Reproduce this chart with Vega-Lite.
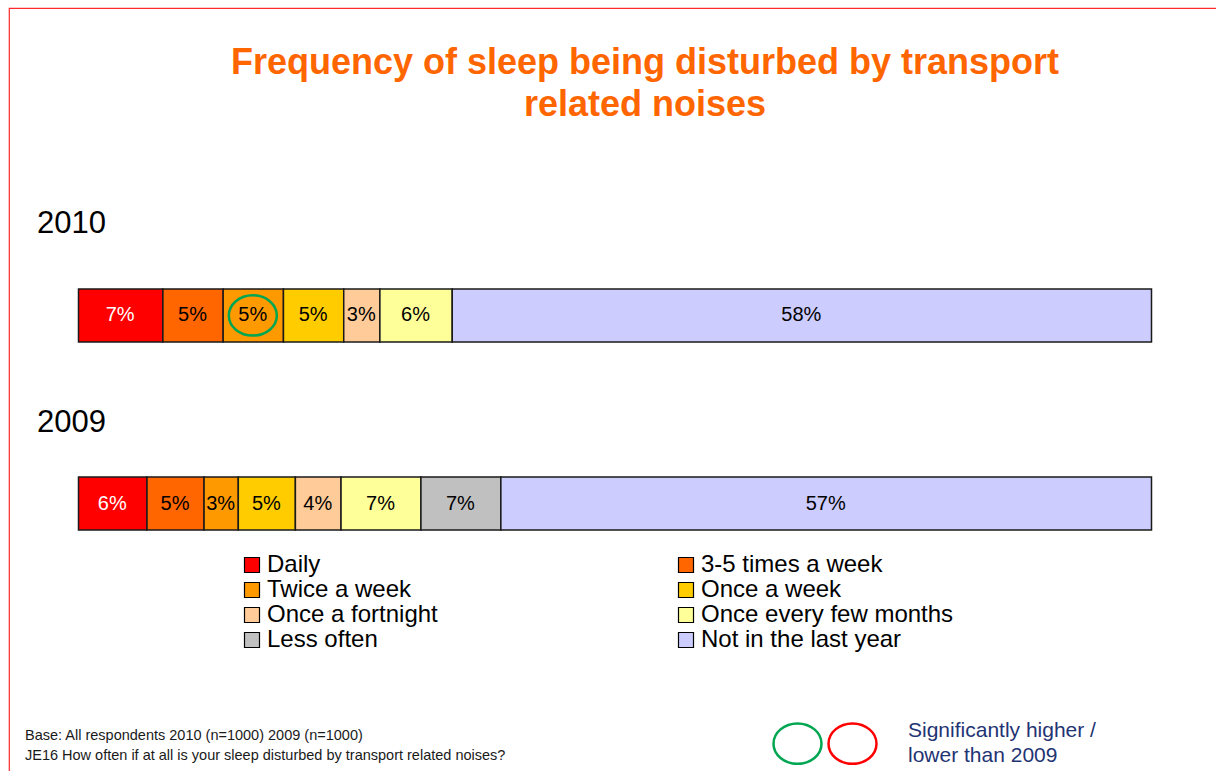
{
  "$schema": "https://vega.github.io/schema/vega-lite/v6.json",
  "width": 1216,
  "height": 800,
  "autosize": {"type": "none"},
  "padding": {"left": 9, "top": 8, "right": 0, "bottom": 0},
  "background": "white",
  "title": {
    "text": ["Frequency of sleep being disturbed by transport", "related noises"],
    "orient": "top",
    "anchor": "middle",
    "frame": "group",
    "offset": -144,
    "baseline": "alphabetic",
    "dx": 28,
    "fontSize": 36,
    "font": "Liberation Sans",
    "fontWeight": "bold",
    "color": "#ff6600",
    "lineHeight": 42
  },
  "config": {
    "view": {"stroke": "#ff2b2b", "strokeWidth": 1.2},
    "font": "Liberation Sans"
  },
  "layer": [
    {
      "data": {
        "values": [
          {"year": "2010", "category": "Daily", "k": 1, "pct": 0.07, "sig": "none"},
          {"year": "2010", "category": "3-5 times a week", "k": 2, "pct": 0.05, "sig": "none"},
          {"year": "2010", "category": "Twice a week", "k": 3, "pct": 0.05, "sig": "higher"},
          {"year": "2010", "category": "Once a week", "k": 4, "pct": 0.05, "sig": "none"},
          {"year": "2010", "category": "Once a fortnight", "k": 5, "pct": 0.03, "sig": "none"},
          {"year": "2010", "category": "Once every few months", "k": 6, "pct": 0.06, "sig": "none"},
          {"year": "2010", "category": "Not in the last year", "k": 8, "pct": 0.58, "sig": "none"},
          {"year": "2009", "category": "Daily", "k": 1, "pct": 0.06, "sig": "none"},
          {"year": "2009", "category": "3-5 times a week", "k": 2, "pct": 0.05, "sig": "none"},
          {"year": "2009", "category": "Twice a week", "k": 3, "pct": 0.03, "sig": "none"},
          {"year": "2009", "category": "Once a week", "k": 4, "pct": 0.05, "sig": "none"},
          {"year": "2009", "category": "Once a fortnight", "k": 5, "pct": 0.04, "sig": "none"},
          {"year": "2009", "category": "Once every few months", "k": 6, "pct": 0.07, "sig": "none"},
          {"year": "2009", "category": "Less often", "k": 7, "pct": 0.07, "sig": "none"},
          {"year": "2009", "category": "Not in the last year", "k": 8, "pct": 0.57, "sig": "none"}
        ]
      },
      "transform": [
        {"stack": "pct", "groupby": ["year"], "sort": [{"field": "k", "order": "ascending"}], "as": ["x0", "x1"], "offset": "normalize"}
      ],
      "layer": [
        {
          "mark": {"type": "bar", "stroke": "#1a1a1a", "strokeWidth": 1.5, "binSpacing": 0},
          "encoding": {
            "x": {"field": "x0", "type": "quantitative", "bin": "binned", "scale": {"domain": [0, 1], "range": [69, 1142], "nice": false, "zero": false}, "axis": null},
            "x2": {"field": "x1"},
            "y": {"field": "year", "type": "nominal", "sort": null, "scale": {"type": "band", "domain": ["2010", "2009"], "range": [281, 522], "paddingInner": 0.7188, "paddingOuter": 0}, "axis": null},
            "fill": {
              "field": "category",
              "type": "nominal",
              "scale": {
                "domain": ["Daily", "Twice a week", "Once a fortnight", "Less often", "3-5 times a week", "Once a week", "Once every few months", "Not in the last year"],
                "range": ["#ff0000", "#ff9900", "#ffcc99", "#c0c0c0", "#ff6600", "#ffcc00", "#ffff99", "#ccccff"]
              },
              "legend": {
                "orient": "none",
                "legendX": 231,
                "legendY": 545,
                "columns": 2,
                "columnPadding": 236,
                "rowPadding": 1,
                "symbolType": "square",
                "symbolSize": 225,
                "symbolStrokeColor": "#000000",
                "symbolStrokeWidth": 1.2,
                "labelFontSize": 24,
                "labelFont": "Liberation Sans",
                "labelColor": "#000000",
                "labelOffset": 3,
                "labelLimit": 0,
                "title": null
              }
            }
          }
        },
        {
          "mark": {"type": "text", "fontSize": 20, "font": "Liberation Sans", "align": "center", "baseline": "middle"},
          "encoding": {
            "x": {"field": "pct", "type": "quantitative", "stack": "normalize", "bandPosition": 0.5},
            "y": {"field": "year", "type": "nominal", "sort": null, "scale": {"type": "band", "domain": ["2010", "2009"], "range": [281, 522], "paddingInner": 0.7188, "paddingOuter": 0}, "axis": null},
            "detail": {"field": "category"},
            "order": {"field": "k", "type": "quantitative", "sort": "ascending"},
            "text": {"field": "pct", "type": "quantitative", "format": ".0%"},
            "color": {"condition": {"test": "datum.category === 'Daily'", "value": "#ffffff"}, "value": "#000000"}
          }
        },
        {
          "transform": [{"filter": "datum.sig === 'higher'"}],
          "mark": {"type": "point", "shape": "M -1 0 A 1 0.84 0 1 1 1 0 A 1 0.84 0 1 1 -1 0 Z", "size": 2304, "strokeWidth": 2.5, "filled": false, "opacity": 1, "dx": -3},
          "encoding": {
            "x": {"field": "x0", "type": "quantitative", "bin": "binned", "bandPosition": 0.5},
            "x2": {"field": "x1"},
            "y": {"field": "year", "type": "nominal", "sort": null, "scale": {"type": "band", "domain": ["2010", "2009"], "range": [281, 522], "paddingInner": 0.7188, "paddingOuter": 0}, "axis": null},
            "stroke": {
              "field": "sig",
              "type": "nominal",
              "scale": {"domain": ["higher", "lower"], "range": ["#00a651", "#ff0000"]},
              "legend": {
                "orient": "none",
                "legendX": 763,
                "legendY": 710,
                "direction": "horizontal",
                "symbolType": "M -1 0 A 1 0.84 0 1 1 1 0 A 1 0.84 0 1 1 -1 0 Z",
                "symbolSize": 2304,
                "symbolStrokeWidth": 2.5,
                "symbolFillColor": "transparent",
                "labelExpr": "''",
                "labelOffset": 0,
                "columnPadding": -5,
                "title": ["Significantly higher /", "lower than 2009"],
                "titleOrient": "right",
                "titlePadding": 26,
                "titleLimit": 0,
                "titleFontSize": 21,
                "titleFontWeight": "normal",
                "titleColor": "#1f3473",
                "titleFont": "Liberation Sans",
                "titleLineHeight": 25
              }
            }
          }
        },
        {
          "transform": [{"filter": "datum.category === 'Daily'"}],
          "mark": {"type": "text", "align": "left", "baseline": "alphabetic", "fontSize": 31, "font": "Liberation Sans", "color": "#000000", "dx": -41},
          "encoding": {
            "x": {"datum": 0, "type": "quantitative"},
            "y": {"field": "year", "type": "nominal", "sort": null, "scale": {"type": "point", "domain": ["2010", "2009"], "range": [225, 424], "padding": 0}, "axis": null},
            "text": {"field": "year"}
          }
        }
      ],
      "resolve": {"scale": {"y": "independent"}}
    },
    {
      "data": {
        "values": [
          {"note": "Base: All respondents 2010 (n=1000) 2009 (n=1000)"},
          {"note": "JE16 How often if at all is your sleep disturbed by transport related noises?"}
        ]
      },
      "mark": {"type": "text", "align": "left", "baseline": "middle", "fontSize": 14.5, "font": "Liberation Sans", "color": "#1a1a1a"},
      "encoding": {
        "x": {"field": "note", "type": "nominal", "scale": {"type": "point", "range": [16, 16], "padding": 0}, "axis": null},
        "y": {"field": "note", "type": "nominal", "sort": null, "scale": {"type": "point", "range": [728, 748], "padding": 0}, "axis": null},
        "text": {"field": "note"}
      }
    }
  ],
  "resolve": {"scale": {"x": "independent", "y": "independent"}}
}
